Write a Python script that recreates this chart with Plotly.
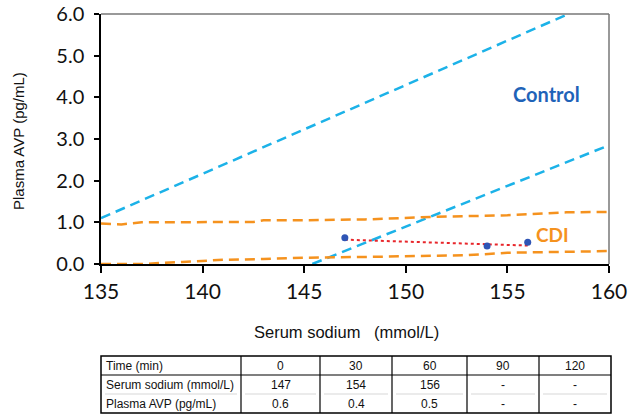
import numpy as np
import plotly.graph_objects as go

# ---------------- data ----------------
control_upper_x = [135, 158]
control_upper_y = [1.1, 6.0]
control_lower_x = [145.4, 160]
control_lower_y = [0.0, 2.85]

cdi_upper_x = [135, 136, 137, 140, 142.5, 143, 145, 148, 151.3, 155, 157.9, 160]
cdi_upper_y = [0.97, 0.95, 1.0, 1.0, 1.01, 1.05, 1.05, 1.07, 1.13, 1.17, 1.24, 1.25]
cdi_lower_x = [135, 137, 139, 141, 143, 145, 148, 151, 153, 155, 160]
cdi_lower_y = [0.0, 0.0, 0.05, 0.1, 0.12, 0.15, 0.17, 0.19, 0.21, 0.27, 0.31]

point_sodium = [147, 154, 156]
point_avp = [0.63, 0.43, 0.52]

table_row_labels = ["Time (min)", "Serum sodium (mmol/L)", "Plasma AVP (pg/mL)"]
time_min = ["0", "30", "60", "90", "120"]
serum_sodium_row = ["147", "154", "156", "-", "-"]
plasma_avp_row = ["0.6", "0.4", "0.5", "-", "-"]
table_sodium = [147, 154, 156]
table_avp = [0.6, 0.4, 0.5]

x_tick_vals = [135, 140, 145, 150, 155, 160]
y_tick_vals = [0, 1, 2, 3, 4, 5, 6]

# ---------------- layout helpers ----------------
W, H = 630, 419
L, R, T, B = 101, 21, 14, 155
PW, PH = W - L - R, H - T - B


def px(x):
    return (x - L) / PW


def py(y):
    return (H - B - y) / PH


BLUE = "#1CB2E8"
ORANGE = "#F5921E"

fig = go.Figure()

dash = "10px,6px"
fig.add_trace(go.Scatter(x=control_upper_x, y=control_upper_y, mode="lines",
                         line=dict(color=BLUE, width=2.5, dash=dash), hoverinfo="skip"))
fig.add_trace(go.Scatter(x=control_lower_x, y=control_lower_y, mode="lines",
                         line=dict(color=BLUE, width=2.5, dash=dash), hoverinfo="skip"))
fig.add_trace(go.Scatter(x=cdi_upper_x, y=cdi_upper_y, mode="lines",
                         line=dict(color=ORANGE, width=2.5, dash=dash), hoverinfo="skip"))
fig.add_trace(go.Scatter(x=cdi_lower_x, y=cdi_lower_y, mode="lines",
                         line=dict(color=ORANGE, width=2.5, dash=dash), hoverinfo="skip"))

# linear trend of the measured values
slope, intercept = np.polyfit(table_sodium, table_avp, 1)
trend_x = [min(table_sodium), max(table_sodium)]
trend_y = [slope * v + intercept for v in trend_x]
fig.add_trace(go.Scatter(x=trend_x, y=trend_y, mode="lines",
                         line=dict(color="#E8262B", width=2, dash="dot"), hoverinfo="skip"))
fig.add_trace(go.Scatter(x=point_sodium, y=point_avp, mode="markers",
                         marker=dict(color="#2F55B5", size=7), hoverinfo="skip"))

fig.update_layout(
    width=W, height=H, margin=dict(l=L, r=R, t=T, b=B, autoexpand=False),
    paper_bgcolor="white", plot_bgcolor="white", showlegend=False,
    xaxis=dict(range=[135, 160], tickvals=x_tick_vals, showgrid=False, zeroline=False,
               showline=True, linecolor="black", linewidth=1.5,
               ticks="outside", ticklen=7, tickwidth=1.5, tickcolor="black",
               tickfont=dict(family="Lato", size=21, color="#111"), ticklabelstandoff=1,
               ticklabeloverflow="allow"),
    yaxis=dict(range=[0, 6.0001], tickvals=y_tick_vals, tickformat=".1f", showgrid=False,
               zeroline=False, showline=True, linecolor="black", linewidth=1.5,
               ticks="outside", ticklen=5, tickwidth=1.5, tickcolor="black",
               tickfont=dict(family="Lato", size=20, color="#111"), ticklabelstandoff=6,
               ticklabeloverflow="allow"),
)

shapes = []
# top and right frame in gray
shapes.append(dict(type="line", xref="paper", yref="paper", x0=0, x1=1, y0=1, y1=1,
                   line=dict(color="#777", width=1.5)))
shapes.append(dict(type="line", xref="paper", yref="paper", x0=1, x1=1, y0=0, y1=1,
                   line=dict(color="#777", width=1.5)))

annotations = []


def note(text, x, y, font, xanchor="center", angle=0):
    annotations.append(dict(text=text, xref="paper", yref="paper", x=px(x), y=py(y),
                            xanchor=xanchor, yanchor="middle", showarrow=False,
                            textangle=angle, font=font))


note("Plasma AVP (pg/mL)", 18, 141, dict(family="Liberation Sans", size=15, color="#111"), angle=-90)
note("Serum sodium   (mmol/L)", 346, 332, dict(family="Liberation Sans", size=16.5, color="#111"))
note("<b>Control</b>", 546, 94, dict(family="Lato", size=20, color="#1F63B8"))
note("<b>CDI</b>", 552, 234, dict(family="Lato", size=19, color=ORANGE))

# ---------------- table ----------------
col_edges = [101, 241, 320, 392, 467, 539, 611]
row_edges = [356, 375, 394, 413]
rows = [time_min, serum_sodium_row, plasma_avp_row]
tfont = dict(family="Liberation Sans", size=12, color="#111")

# outer border
shapes.append(dict(type="rect", xref="paper", yref="paper",
                   x0=px(col_edges[0]), x1=px(col_edges[-1]),
                   y0=py(row_edges[-1]), y1=py(row_edges[0]),
                   line=dict(color="black", width=1.5)))
for ce in col_edges[1:-1]:
    shapes.append(dict(type="line", xref="paper", yref="paper",
                       x0=px(ce), x1=px(ce), y0=py(row_edges[0]), y1=py(row_edges[-1]),
                       line=dict(color="black", width=1.2)))
shapes.append(dict(type="line", xref="paper", yref="paper",
                   x0=px(col_edges[0]), x1=px(col_edges[-1]),
                   y0=py(row_edges[1]), y1=py(row_edges[1]),
                   line=dict(color="black", width=1.2)))
for i in range(len(col_edges) - 1):
    shapes.append(dict(type="line", xref="paper", yref="paper",
                       x0=px(col_edges[i] + 4), x1=px(col_edges[i + 1] - 4),
                       y0=py(row_edges[2]), y1=py(row_edges[2]),
                       line=dict(color="#d8d8d8", width=1.2)))

for r, (label, vals) in enumerate(zip(table_row_labels, rows)):
    yc = (row_edges[r] + row_edges[r + 1]) / 2 + 0.5
    note(label, col_edges[0] + 3, yc, tfont, xanchor="left")
    for c, v in enumerate(vals):
        xc = (col_edges[c + 1] + col_edges[c + 2]) / 2
        note(v, xc, yc, tfont)

fig.update_layout(shapes=shapes, annotations=annotations)
fig.write_html("out.html", config={"displayModeBar": False},
               post_script="document.body.style.margin='0';")
